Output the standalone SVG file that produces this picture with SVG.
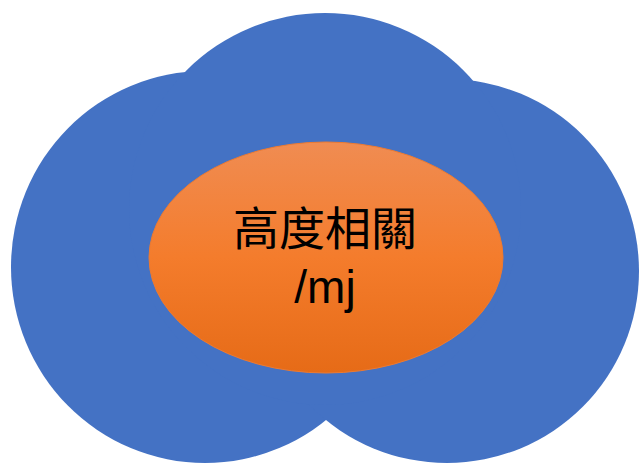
<svg xmlns="http://www.w3.org/2000/svg" width="639" height="464" viewBox="0 0 639 464">
  <defs>
    <linearGradient id="orangeGrad" x1="0" y1="0" x2="0" y2="1">
      <stop offset="0" stop-color="#F08C52"/>
      <stop offset="0.5" stop-color="#F47C2C"/>
      <stop offset="1" stop-color="#E66B17"/>
    </linearGradient>
    <style>
      .lobe { fill: #4472C4; }
      .label { font-family: "Liberation Sans", "Noto Sans CJK TC", sans-serif; font-size: 46px; fill: #000000; text-anchor: middle; }
    </style>
  </defs>
  <g id="cloud">
    <ellipse class="lobe" cx="205" cy="267" rx="194" ry="196"/>
    <circle class="lobe" cx="447" cy="271" r="192"/>
    <circle class="lobe" cx="325" cy="209" r="196"/>
  </g>
  <g id="core">
    <ellipse cx="326" cy="257.5" rx="177" ry="115.5" fill="url(#orangeGrad)" stroke="#EE7A30" stroke-width="1"/>
    <text class="label" x="325" y="245">高度相關</text>
    <text class="label" x="325" y="303">/mj</text>
  </g>
</svg>
